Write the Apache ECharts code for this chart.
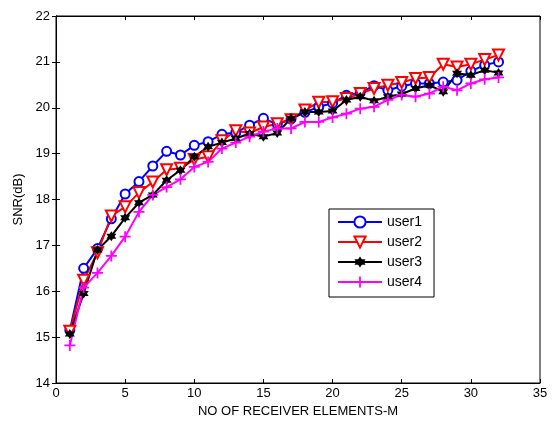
<!DOCTYPE html>
<html>
<head>
<meta charset="utf-8">
<script src="https://cdn.jsdelivr.net/npm/echarts@6/dist/echarts.min.js"></script>
<style>
  html, body { margin: 0; padding: 0; background: #fff; }
  #main { width: 553px; height: 425px; }
</style>
</head>
<body>
<div id="main"></div>
<script>
// receiver elements M = 1..32
var elements = [];
for (var m = 1; m <= 32; m++) elements.push(m);

var user1 = [15.15, 16.5, 16.93, 17.58, 18.12, 18.39, 18.73, 19.05, 18.97, 19.18, 19.26, 19.42, 19.46, 19.62, 19.77, 19.64,
             19.76, 19.9, 20.02, 20.1, 20.27, 20.33, 20.48, 20.38, 20.47, 20.53, 20.53, 20.56, 20.6, 20.8, 20.93, 21.0];
var user2 = [15.13, 16.24, 16.84, 17.64, 17.84, 18.15, 18.38, 18.65, 18.68, 18.87, 18.93, 19.28, 19.5, 19.45, 19.58, 19.65,
             19.74, 19.95, 20.12, 20.13, 20.2, 20.31, 20.42, 20.49, 20.55, 20.64, 20.66, 20.95, 20.89, 20.95, 21.05, 21.15];
var user3 = [15.07, 15.95, 16.9, 17.2, 17.6, 17.93, 18.1, 18.42, 18.64, 18.93, 19.15, 19.24, 19.33, 19.44, 19.37, 19.45,
             19.77, 19.91, 19.91, 19.93, 20.17, 20.24, 20.15, 20.24, 20.3, 20.42, 20.49, 20.35, 20.75, 20.71, 20.82, 20.76];
var user4 = [14.82, 16.08, 16.4, 16.77, 17.19, 17.73, 18.1, 18.27, 18.44, 18.71, 18.82, 19.11, 19.24, 19.37, 19.48, 19.55,
             19.55, 19.69, 19.69, 19.79, 19.87, 19.98, 20.02, 20.17, 20.28, 20.24, 20.31, 20.46, 20.38, 20.53, 20.62, 20.66];

var xTicks = [0, 35, 5];   // min, max, step
var yTicks = [14, 22, 1];

function pairs(vals) {
  return vals.map(function (v, i) { return [elements[i], v]; });
}

var plusIcon = 'path://M4.2,0H5.8V10H4.2Z M0,4.2H10V5.8H0Z';
var hexIcon = 'path://M5,0L9.33,7.5L0.67,7.5Z M5,10L0.67,2.5L9.33,2.5Z';

var font = 'Liberation Sans, Arial, sans-serif';

var myChart = echarts.init(document.getElementById('main'));

var option = {
  backgroundColor: '#fff',
  animation: false,
  textStyle: { fontFamily: font },
  grid: {
    left: 56, right: 13, top: 16, bottom: 42,
    show: true, borderColor: '#000', borderWidth: 1
  },
  legend: {
    orient: 'vertical',
    left: 329, top: 209,
    width: 101,
    backgroundColor: '#fff',
    borderColor: '#000', borderWidth: 1,
    padding: [6, 12, 8, 8],
    itemGap: 6,
    itemWidth: 44, itemHeight: 14,
    textStyle: { fontFamily: font, fontSize: 14, color: '#000' },
    data: ['user1', 'user2', 'user3', 'user4']
  },
  xAxis: [{
    type: 'value',
    min: xTicks[0], max: xTicks[1], interval: xTicks[2],
    name: 'NO OF RECEIVER ELEMENTS-M',
    nameLocation: 'middle', nameGap: 22,
    nameTextStyle: { fontFamily: font, fontSize: 13, color: '#000' },
    axisLine: { lineStyle: { color: '#000' } },
    axisTick: { inside: true, length: 4, lineStyle: { color: '#000' } },
    axisLabel: { fontFamily: font, fontSize: 13, color: '#000', margin: 4 },
    splitLine: { show: false }
  }, {
    type: 'value', position: 'top',
    min: xTicks[0], max: xTicks[1], interval: xTicks[2],
    axisLine: { lineStyle: { color: '#000' } },
    axisTick: { inside: true, length: 4, lineStyle: { color: '#000' } },
    axisLabel: { show: false },
    splitLine: { show: false }
  }],
  yAxis: [{
    type: 'value',
    min: yTicks[0], max: yTicks[1], interval: yTicks[2],
    name: 'SNR(dB)',
    nameLocation: 'middle', nameGap: 28, nameRotate: 90,
    nameTextStyle: { fontFamily: font, fontSize: 13, color: '#000' },
    axisLine: { lineStyle: { color: '#000' } },
    axisTick: { inside: true, length: 4, lineStyle: { color: '#000' } },
    axisLabel: { fontFamily: font, fontSize: 13, color: '#000', margin: 6 },
    splitLine: { show: false }
  }, {
    type: 'value', position: 'right',
    min: yTicks[0], max: yTicks[1], interval: yTicks[2],
    axisLine: { lineStyle: { color: '#000' } },
    axisTick: { inside: true, length: 4, lineStyle: { color: '#000' } },
    axisLabel: { show: false },
    splitLine: { show: false }
  }],
  series: [{
    name: 'user1', type: 'line',
    data: pairs(user1),
    symbol: 'emptyCircle', symbolSize: 9,
    lineStyle: { color: '#0000ff', width: 2 },
    itemStyle: { color: '#0000ff', borderColor: '#0000ff', borderWidth: 2 }
  }, {
    name: 'user2', type: 'line',
    data: pairs(user2),
    symbol: 'emptyTriangle', symbolRotate: 180, symbolSize: 11,
    lineStyle: { color: '#ff0000', width: 2 },
    itemStyle: { color: '#ff0000', borderColor: '#ff0000', borderWidth: 2 }
  }, {
    name: 'user3', type: 'line',
    data: pairs(user3),
    symbol: hexIcon, symbolSize: 10,
    lineStyle: { color: '#000000', width: 2 },
    itemStyle: { color: '#000000' }
  }, {
    name: 'user4', type: 'line',
    data: pairs(user4),
    symbol: plusIcon, symbolSize: 11,
    lineStyle: { color: '#ff00ff', width: 2 },
    itemStyle: { color: '#ff00ff' }
  }]
};

myChart.setOption(option);
</script>
</body>
</html>
